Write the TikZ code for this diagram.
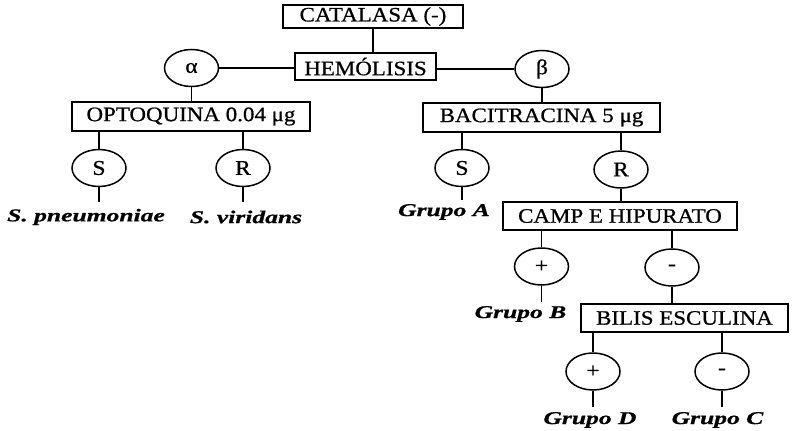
\documentclass[tikz,border=0pt]{standalone}
\usepackage{fontspec}
\setmainfont{Liberation Serif}
\newfontfamily\bxfont[FakeStretch=1.12,FakeBold=0.8]{Liberation Serif}
\newfontfamily\lbfont[FakeStretch=1.42,FakeBold=0.8]{Liberation Serif}
\usetikzlibrary{shapes.geometric}
\begin{document}
\begin{tikzpicture}[x=1pt,y=-1pt,line width=1.5pt,
  boxnode/.style={draw, rectangle, inner sep=0pt, font=\bxfont\fontsize{20.5}{20.5}\selectfont},
  circnode/.style={draw, ellipse, inner sep=0pt, minimum width=54pt, minimum height=37pt, font=\bxfont\fontsize{21}{21}\selectfont},
  labnode/.style={inner sep=0pt, font=\lbfont\bfseries\itshape\fontsize{18}{18}\selectfont}]
\useasboundingbox (0,0) rectangle (793,431);
% boxes
\node[boxnode, minimum width=180pt, minimum height=23pt] (cat) at (373,16.5) {CATALASA (-)};
\node[boxnode, minimum width=141pt, minimum height=27pt] (hem) at (365.5,66.5) {HEMÓLISIS};
\node[boxnode, minimum width=238pt, minimum height=29pt] (opt) at (191,116.5) {OPTOQUINA 0.04 μg};
\node[boxnode, minimum width=237pt, minimum height=29pt] (bac) at (541.5,117.5) {BACITRACINA 5 μg};
\node[boxnode, minimum width=234pt, minimum height=28pt] (camp) at (620,216) {CAMP E HIPURATO};
\node[boxnode, minimum width=207pt, minimum height=28pt] (bilis) at (684.5,318) {BILIS ESCULINA};
% circles
\node[circnode] (alpha) at (191.5,68) {α};
\node[circnode] (beta) at (542,69) {β};
\node[circnode] (s1) at (99,168) {S};
\node[circnode] (r1) at (243,168) {R};
\node[circnode] (s2) at (462,168) {S};
\node[circnode] (r2) at (621,169.5) {R};
\node[circnode] (p1) at (541.5,266.5) {+};
\node[circnode] (m1) at (672,267.5) {-};
\node[circnode] (p2) at (593,371.5) {+};
\node[circnode] (m2) at (722,371.5) {-};
% labels
\node[labnode] (pneu) at (86,217) {S. pneumoniae};
\node[labnode] (viri) at (246,217) {S. viridans};
\node[labnode] (grA) at (444,212) {Grupo A};
\node[labnode] (grB) at (520.5,314) {Grupo B};
\node[labnode] (grD) at (590,420) {Grupo D};
\node[labnode] (grC) at (717.5,420) {Grupo C};
% free ends
\coordinate (s1e) at (99,202);
\coordinate (r1e) at (243,202);
\coordinate (s2e) at (462,200);
\coordinate (p1e) at (541.5,302);
\coordinate (p2e) at (593,407);
\coordinate (m2e) at (722,407);
% connectors
\draw (cat.south) -- (cat.south |- hem.north);
\draw (alpha.east) -- (alpha.east -| hem.west);
\draw (beta.west) -- (beta.west -| hem.east);
\draw (alpha.south) -- (alpha.south |- opt.north);
\draw (beta.south) -- (beta.south |- bac.north);
\draw (s1.north) -- (s1.north |- opt.south);
\draw (r1.north) -- (r1.north |- opt.south);
\draw (s2.north) -- (s2.north |- bac.south);
\draw (r2.north) -- (r2.north |- bac.south);
\draw (r2.south) -- (r2.south |- camp.north);
\draw (p1.north) -- (p1.north |- camp.south);
\draw (m1.north) -- (m1.north |- camp.south);
\draw (m1.south) -- (m1.south |- bilis.north);
\draw (p2.north) -- (p2.north |- bilis.south);
\draw (m2.north) -- (m2.north |- bilis.south);
\draw (s1.south) -- (s1e);
\draw (r1.south) -- (r1e);
\draw (s2.south) -- (s2e);
\draw (p1.south) -- (p1e);
\draw (p2.south) -- (p2e);
\draw (m2.south) -- (m2e);
\end{tikzpicture}
\end{document}
